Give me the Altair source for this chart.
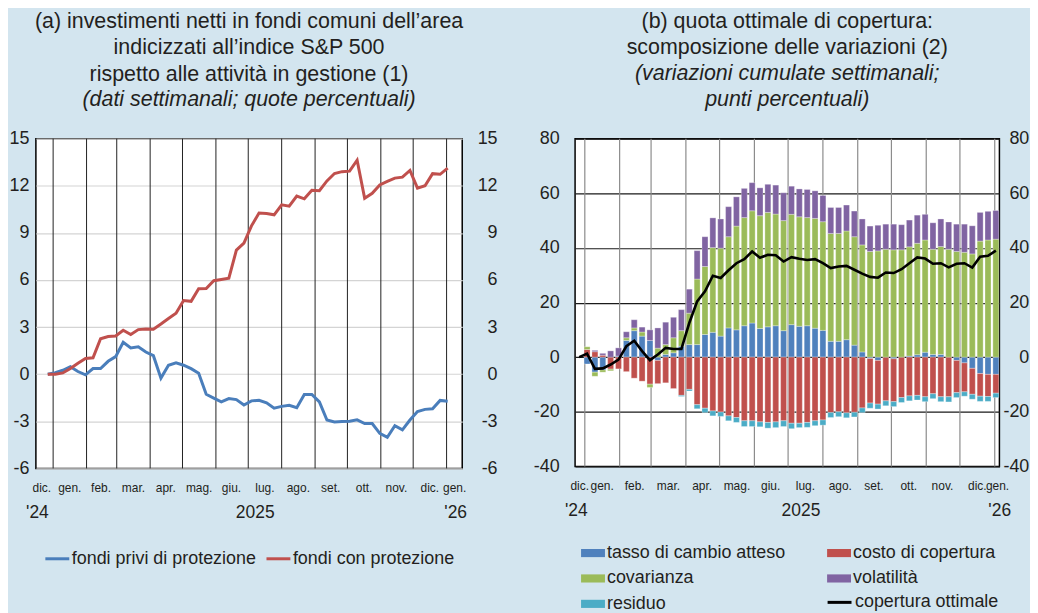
import json
import altair as alt
import pandas as pd

FONT = "Liberation Sans"
BG = "#d3e5ef"
TXT = "#231f20"

# ---------------- data ----------------
DATES = pd.date_range("2024-12-27", periods=54, freq="7D")

PRIVI = [0.0, 0.1, 0.25, 0.47, 0.17, -0.04, 0.36, 0.36, 0.82, 1.12, 2.03, 1.67, 1.75, 1.41,
         1.18, -0.25, 0.57, 0.72, 0.57, 0.35, 0.06, -1.28, -1.52, -1.76, -1.55, -1.62, -1.96,
         -1.70, -1.66, -1.82, -2.17, -2.05, -1.98, -2.13, -1.29, -1.29, -1.77, -2.92, -3.04,
         -3.02, -3.00, -2.91, -3.14, -3.14, -3.77, -4.02, -3.28, -3.55, -2.92, -2.38, -2.24,
         -2.20, -1.67, -1.72]
CON = [0.0, 0.0, 0.08, 0.36, 0.70, 1.00, 1.04, 2.26, 2.40, 2.43, 2.80, 2.53, 2.84, 2.88,
       2.87, 3.20, 3.55, 3.88, 4.69, 4.64, 5.44, 5.46, 5.95, 6.03, 6.12, 7.90, 8.35, 9.45,
       10.26, 10.23, 10.15, 10.79, 10.70, 11.34, 11.17, 11.72, 11.69, 12.31, 12.78, 12.90,
       12.93, 13.63, 11.20, 11.52, 12.05, 12.28, 12.49, 12.55, 12.98, 11.85, 12.00, 12.77,
       12.73, 13.12]

TASSO = [0, -2.5, -5.5, -4.7, 0, 0.4, 6.1, 9.7, 7.7, 6.1, -1.2, 1.0, 1.6, 4.0, 4.6, 4.6,
         8.3, 9.1, 7.7, 10.7, 10.0, 11.5, 12.5, 10.5, 11.1, 11.5, 9.7, 11.9, 11.3, 11.5, 10.6,
         9.8, 5.8, 5.8, 6.4, 4.4, 1.9, -0.5, -1.2, 0, -0.6, 0, 0.4, 0.9, 1.8, 1.0, 1.0, 0,
         -1.2, -2.1, -4.1, -6.0, -6.3, -6.3]
COSTO = [0, 2.8, 2.0, 0.7, -4.4, -4.3, -5.3, -7.7, -8.8, -9.9, -8.5, -9.4, -11.5, -14.0,
         -11.8, -17.4, -18.7, -19.7, -20.1, -21.5, -22.1, -23.3, -23.3, -23.7, -23.9, -23.7,
         -23.3, -24.2, -24.2, -23.9, -23.3, -23.0, -20.3, -20.0, -20.4, -20.2, -18.6, -16.3,
         -16.0, -16.0, -15.7, -14.8, -14.2, -14.0, -14.5, -13.4, -14.5, -14.5, -11.8, -10.6,
         -9.5, -8.3, -8.1, -6.9]
COVARIANZA = [0, 1.0, -1.5, -0.8, -0.6, 0, 1.0, 1.0, 1.5, -1.2, 3.3, 3.6, 5.5, 5.7, 11.5,
              24.0, 24.9, 31.0, 32.2, 33.4, 38.0, 39.6, 41.1, 41.3, 41.9, 40.9, 40.3, 40.4,
              40.1, 39.6, 40.2, 39.8, 39.5, 39.5, 39.8, 39.7, 39.2, 38.7, 38.9, 39.5, 39.3,
              39.3, 40.0, 40.8, 41.1, 38.5, 39.5, 39.5, 38.7, 38.4, 37.8, 42.5, 42.9, 43.2]
VOLATILITA = [0, 0, 0.5, 0.7, 2.3, 3.0, 2.2, 3.0, 1.8, 3.9, 7.4, 8.2, 7.5, 7.7, 8.8, 10.4,
              10.9, 10.9, 10.7, 11.0, 10.7, 10.7, 10.3, 10.2, 10.3, 10.6, 10.2, 10.3, 10.2,
              10.3, 10.1, 9.6, 9.5, 9.5, 9.5, 9.4, 9.5, 9.3, 9.4, 9.2, 9.4, 9.2, 9.8, 10.3,
              9.4, 9.7, 10.1, 10.0, 10.0, 10.3, 10.3, 10.5, 10.5, 10.5]
RESIDUO = [0, 0, 0, 0, 0, 0, 0, 0, 0, 0, 0, 0, 0, -0.4, -0.6, -1.5, -1.6, -1.8, -1.6, -1.8,
           -1.8, -2.1, -2.1, -1.8, -2.1, -2.1, -2.1, -2.0, -1.6, -1.8, -1.8, -1.9, -1.8, -1.8,
           -1.8, -1.7, -1.7, -1.9, -1.8, -1.8, -1.8, -1.8, -1.8, -1.7, -1.8, -1.8, -1.8, -1.9,
           -1.8, -1.6, -1.8, -1.9, -1.8, -1.6]
COPERTURA = [0, 1.3, -4.3, -4.1, -2.7, -0.9, 4.0, 6.0, 2.2, -1.1, 1.0, 3.4, 3.0, 3.0, 12.5,
             20.4, 24.1, 29.8, 29.0, 31.8, 34.4, 35.9, 38.7, 36.4, 37.5, 37.3, 35.0, 36.6,
             36.0, 35.6, 35.9, 34.4, 32.6, 33.2, 33.4, 32.0, 30.6, 29.4, 29.1, 31.0, 30.8,
             32.2, 34.4, 36.5, 36.1, 34.2, 34.4, 32.9, 34.2, 34.4, 32.8, 36.8, 37.1, 39.0]

SERIE_A = ["fondi privi di protezione", "fondi con protezione"]
COLORI_A = ["#4a7ebb", "#c0504d"]
# stacking order of the components
COMPONENTI = ["tasso di cambio atteso", "costo di copertura", "covarianza", "volatilità", "residuo"]
COLORI_B = ["#4f81bd", "#c0504d", "#9bbb59", "#8064a2", "#4bacc6"]
# legend order (legend fills column by column)
ORDINE_LEGENDA = ["tasso di cambio atteso", "covarianza", "residuo", "costo di copertura", "volatilità"]
LINEA_B = "copertura ottimale"

MESI = ["gen.", "feb.", "mar.", "apr.", "mag.", "giu.", "lug.", "ago.", "set.", "ott.", "nov.", "dic."]
MESI_POS = ["2025-01-16", "2025-02-14", "2025-03-16", "2025-04-15", "2025-05-16", "2025-06-15",
            "2025-07-16", "2025-08-16", "2025-09-15", "2025-10-16", "2025-11-15", "2025-12-16"]
INIZI_MESE = pd.date_range("2025-01-01", "2026-01-01", freq="MS")
ANNI = ["'24", "2025", "'26"]

LEFT_DOMAIN = ["2024-12-16T00", "2026-01-15T12"]
RIGHT_DOMAIN = ["2024-12-23T08", "2026-01-05T04"]
LEFT_ENDS = ["2024-12-21", "2026-01-08"]
RIGHT_ENDS = ["2024-12-27", "2026-01-03"]
LEFT_YEARS = ["2024-12-17", "2025-07-07", "2026-01-09"]
RIGHT_YEARS = ["2024-12-24", "2025-07-12", "2026-01-05"]


def dt(s):
    t = pd.Timestamp(s)
    return alt.DateTime(year=t.year, month=t.month, date=t.day, hours=t.hour)


df_a = pd.DataFrame({"data": DATES, SERIE_A[0]: PRIVI, SERIE_A[1]: CON}).melt(
    "data", var_name="serie", value_name="valore")

rows = []
for k, (nome, vals) in enumerate(zip(COMPONENTI, [TASSO, COSTO, COVARIANZA, VOLATILITA, RESIDUO])):
    for d, v in zip(DATES, vals):
        if v != 0:
            rows.append({"data": d, "componente": nome, "valore": v, "ordine": k})
df_bars = pd.DataFrame(rows)
df_line = pd.DataFrame({"data": DATES, "valore": COPERTURA, "linea": LINEA_B})
df_months = pd.DataFrame({"data": INIZI_MESE})

month_expr = "[" + ",".join(json.dumps(m) for m in MESI) + "][month(datum.value)]"
years_num = [pd.Timestamp(s).year for s in LEFT_YEARS]
year_expr = (f"year(datum.value) == {years_num[0]} ? {json.dumps(ANNI[0])} : "
             f"year(datum.value) == {years_num[1]} ? {json.dumps(ANNI[1])} : {json.dumps(ANNI[2])}")


def month_axis(ends):
    vals = [dt(ends[0])] + [dt(s) for s in MESI_POS] + [dt(ends[1])]
    return alt.Axis(orient="bottom", values=vals, labelExpr=month_expr, grid=False, ticks=False,
                    tickSize=0, domain=False, labelFontSize=12, labelPadding=14, title=None,
                    labelOverlap=False, labelFlush=False, labelColor=TXT, labelFont=FONT)


def year_axis(pos):
    return alt.Axis(orient="bottom", values=[dt(s) for s in pos], labelExpr=year_expr, grid=False,
                    ticks=False, tickSize=0, domain=False, labelFontSize=17.5, labelPadding=35,
                    title=None, labelOverlap=False, labelFlush=False, labelColor=TXT, labelFont=FONT)


def y_axis(orient, values, grid, gridcolor, pad):
    kw = dict(orient=orient, values=values, grid=grid, ticks=False, tickSize=0, domain=False,
              labelFontSize=18, labelPadding=pad, title=None, labelExpr="datum.value + ''",
              labelColor=TXT, labelFont=FONT)
    if grid:
        kw.update(gridColor=gridcolor, gridWidth=1.2)
    if orient == "right":
        kw.update(labelAlign="right")
    return alt.Axis(**kw)


def titolo(righe, sotto):
    return alt.TitleParams(
        text=righe, subtitle=sotto, anchor="middle", frame="group", font=FONT, fontSize=21.5,
        fontWeight="normal", color=TXT, lineHeight=26.7, subtitleFont=FONT, subtitleFontSize=21.5,
        subtitleFontStyle="italic", subtitleColor=TXT, subtitleLineHeight=26.7, subtitlePadding=4,
        offset=19)


# ---------------- panel (a) ----------------
xs_a = alt.Scale(domain=[dt(LEFT_DOMAIN[0]), dt(LEFT_DOMAIN[1])], nice=False, padding=0)
ys_a = alt.Scale(domain=[-6, 15], nice=False)
yvals_a = list(range(-6, 16, 3))

rules_a = alt.Chart(df_months).mark_rule(color="#222222", strokeWidth=1).encode(
    x=alt.X("data:T", scale=xs_a, axis=year_axis(LEFT_YEARS)))
lines_a = alt.Chart(df_a).mark_line(strokeWidth=3).encode(
    x=alt.X("data:T", scale=xs_a, axis=month_axis(LEFT_ENDS)),
    y=alt.Y("valore:Q", scale=ys_a, axis=y_axis("left", yvals_a, True, "#d4d4d4", 7)),
    color=alt.Color("serie:N", scale=alt.Scale(domain=SERIE_A, range=COLORI_A),
                    legend=alt.Legend(title=None, orient="none", legendX=8, legendY=408,
                                      direction="horizontal", symbolType="stroke", symbolSize=576,
                                      symbolStrokeWidth=3, labelFont=FONT, labelFontSize=18,
                                      labelColor=TXT, labelOffset=1, columnPadding=3,
                                      labelLimit=400)))
dummy_a = alt.Chart(df_a).mark_point(opacity=0).encode(
    x=alt.X("data:T", scale=xs_a, axis=None),
    y=alt.Y("valore:Q", scale=ys_a, axis=y_axis("right", yvals_a, False, None, 35)))

panel_a = alt.layer(rules_a, lines_a, dummy_a).resolve_scale(x="independent").resolve_axis(
    y="independent").properties(
    width=428, height=331,
    title=titolo(["(a) investimenti netti in fondi comuni dell’area", "indicizzati all’indice S&P 500",
                  "rispetto alle attività in gestione (1)"],
                 ["(dati settimanali; quote percentuali)"]))

# ---------------- panel (b) ----------------
xs_b = alt.Scale(domain=[dt(RIGHT_DOMAIN[0]), dt(RIGHT_DOMAIN[1])], nice=False, padding=0)
ys_b = alt.Scale(domain=[-40, 80], nice=False)
yvals_b = list(range(-40, 81, 20))
colori_legenda = [COLORI_B[COMPONENTI.index(c)] for c in ORDINE_LEGENDA]

rules_b = alt.Chart(df_months).mark_rule(color="#8c8c8c", strokeWidth=1.2).encode(
    x=alt.X("data:T", scale=xs_b, axis=year_axis(RIGHT_YEARS)))
bars_b = alt.Chart(df_bars).mark_bar(size=6, stroke="white", strokeWidth=0.5, strokeOpacity=0.6).encode(
    x=alt.X("data:T", scale=xs_b, axis=month_axis(RIGHT_ENDS)),
    y=alt.Y("valore:Q", stack="zero", scale=ys_b, axis=y_axis("left", yvals_b, True, "#1a1a1a", 16)),
    color=alt.Color("componente:N", scale=alt.Scale(domain=ORDINE_LEGENDA, range=colori_legenda),
                    legend=alt.Legend(title=None, orient="none", legendX=6, legendY=404, columns=2,
                                      symbolType="M-1,-0.34H1V0.34H-1Z", symbolSize=576,
                                      symbolStrokeWidth=0, symbolOpacity=1, labelFont=FONT,
                                      labelFontSize=18, labelColor=TXT, labelOffset=2,
                                      columnPadding=41, rowPadding=4.5, labelLimit=400)),
    order=alt.Order("ordine:Q"))
line_b = alt.Chart(df_line).mark_line(strokeWidth=2.6).encode(
    x=alt.X("data:T", scale=xs_b, axis=None),
    y=alt.Y("valore:Q", scale=ys_b, axis=None),
    stroke=alt.Stroke("linea:N", scale=alt.Scale(domain=[LINEA_B], range=["#000000"]),
                      legend=alt.Legend(title=None, orient="none", legendX=252, legendY=452,
                                        symbolType="stroke", symbolSize=576, symbolStrokeWidth=3,
                                        labelFont=FONT, labelFontSize=18, labelColor=TXT,
                                        labelOffset=2, labelLimit=400)))
dummy_b = alt.Chart(df_line).mark_point(opacity=0).encode(
    x=alt.X("data:T", scale=xs_b, axis=None),
    y=alt.Y("valore:Q", scale=ys_b, axis=y_axis("right", yvals_b, False, None, 29.5)))

panel_b = alt.layer(rules_b, bars_b, line_b, dummy_b).resolve_scale(
    x="independent").resolve_axis(y="independent").properties(
    width=426, height=329,
    title=titolo(["(b) quota ottimale di copertura:", "scomposizione delle variazioni (2)"],
                 ["(variazioni cumulate settimanali;", "punti percentuali)"]))

chart = alt.hconcat(panel_a, panel_b, spacing=34.3).resolve_scale(
    color="independent", stroke="independent").resolve_legend(
    color="independent", stroke="independent").properties(
    padding={"left": 0, "top": 0, "right": 0, "bottom": 0}
).configure(background=BG, font=FONT).configure_view(
    stroke="#000000", strokeWidth=1.5, fill="white")

chart.save("out.html", embed_options={"renderer": "svg", "actions": False})
